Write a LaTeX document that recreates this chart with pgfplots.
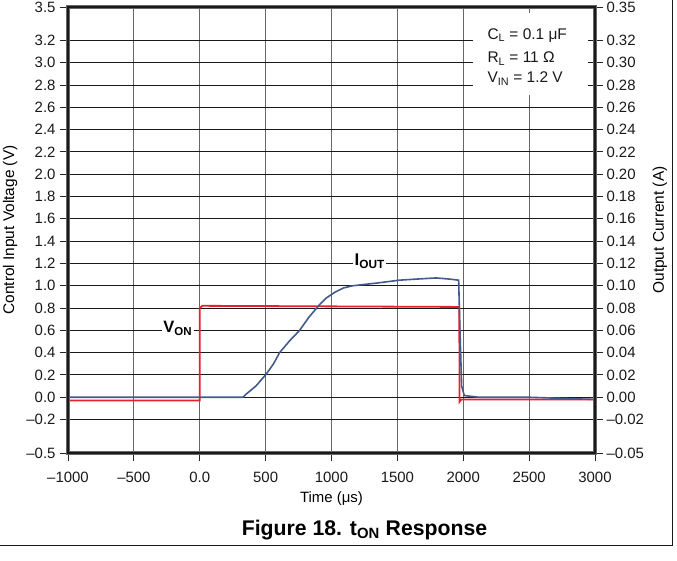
\documentclass[border=0pt]{standalone}
\usepackage{fontspec}
\setmainfont{Liberation Sans}
\usepackage{pgfplots}
\pgfplotsset{compat=1.18}
\definecolor{vonred}{RGB}{232,32,42}
\definecolor{ioutblue}{RGB}{66,90,140}
\newcommand{\tk}{\fontsize{15}{18}\selectfont}
\begin{document}
\begin{tikzpicture}
\useasboundingbox (0bp,0bp) rectangle (677bp,561bp);
\draw[black!90, line width=1bp] (0bp,15bp) -- (672bp,15bp) -- (672bp,561bp);

% left axis: control voltage
\begin{axis}[
  at={(68bp,108bp)}, anchor=south west, scale only axis,
  width=527bp, height=446bp,
  xmin=-1000, xmax=3000, ymin=-0.5, ymax=3.5,
  xtick={-1000,-500,0,500,1000,1500,2000,2500,3000},
  xticklabels={\textendash1000,\textendash500,0.0,500,1000,1500,2000,2500,3000},
  ytick={-0.5,-0.2,0,0.2,0.4,0.6,0.8,1.0,1.2,1.4,1.6,1.8,2.0,2.2,2.4,2.6,2.8,3.0,3.2,3.5},
  yticklabels={\textendash0.5,\textendash0.2,0.0,0.2,0.4,0.6,0.8,1.0,1.2,1.4,1.6,1.8,2.0,2.2,2.4,2.6,2.8,3.0,3.2,3.5},
  xtick pos=bottom, ytick pos=left,
  tick align=outside, major tick length=8bp,
  tick style={black!85, line width=0.9bp},
  xmajorgrids, ymajorgrids,
  x grid style={black!60, line width=1bp},
  y grid style={black!90, line width=0.9bp},
  ticklabel style={font=\tk, text=black!90},
  xticklabel style={yshift=-8bp},
  yticklabel style={xshift=-1bp},
  xlabel={Time (μs)},
  xlabel style={font=\tk, at={(axis description cs:0.5,0)}, anchor=base, yshift=-49bp},
  ylabel={Control Input Voltage (V)},
  ylabel style={font=\fontsize{15.5}{18}\selectfont, at={(axis description cs:-0.110,0.5)}, anchor=center},
]
\addplot[vonred, line width=1.8bp] coordinates {
  (-1000,-0.03) (0,-0.03) (0,0.80) (20,0.82) (1000,0.815) (1970,0.81)
  (1972,-0.04) (1985,-0.02) (3000,-0.02)
};
\node[fill=white, inner sep=1.5bp, anchor=base, font=\fontsize{16.5}{19}\selectfont\bfseries]
  at (axis cs:-167,0.58) {V\textsubscript{ON}};
\node[fill=white, inner sep=1.5bp, anchor=base, font=\fontsize{17}{20}\selectfont\bfseries]
  at (axis cs:1290,1.18) {I\textsubscript{OUT}};
\end{axis}

% right axis: output current
\begin{axis}[
  at={(68bp,108bp)}, anchor=south west, scale only axis,
  width=527bp, height=446bp,
  xmin=-1000, xmax=3000, ymin=-0.05, ymax=0.35,
  axis x line=none, axis y line*=right,
  ytick={-0.05,-0.02,0,0.02,0.04,0.06,0.08,0.10,0.12,0.14,0.16,0.18,0.20,0.22,0.24,0.26,0.28,0.30,0.32,0.35},
  yticklabels={\textendash0.05,\textendash0.02,0.00,0.02,0.04,0.06,0.08,0.10,0.12,0.14,0.16,0.18,0.20,0.22,0.24,0.26,0.28,0.30,0.32,0.35},
  tick align=outside, major tick length=8bp,
  tick style={black!85, line width=0.9bp},
  y axis line style={-},
  ticklabel style={font=\tk, text=black!90},
  ylabel={Output Current (A)},
  ylabel style={font=\fontsize{15.5}{18}\selectfont, at={(axis description cs:1.123,0.5)}, anchor=center},
]
\addplot[ioutblue, line width=1.6bp] coordinates {
  (-1000,0) (0,0) (328,0) (354,0.003) (390,0.0065) (429,0.0104) (505,0.0208)
  (560,0.030) (606,0.040) (682,0.0506) (758,0.060) (830,0.072) (909,0.083)
  (960,0.089) (1023,0.094) (1090,0.098) (1162,0.100) (1350,0.1025) (1515,0.105)
  (1650,0.106) (1793,0.107) (1894,0.106) (1965,0.105) (1975,0.060) (1988,0.010)
  (2008,0.0015) (2120,0) (2500,0) (3000,-0.002)
};
\end{axis}

% heavy plot frame
\draw[black!60, line width=4.4bp] (68bp,108bp) rectangle (595bp,554bp);
\draw[black!90, line width=2.6bp] (68bp,108bp) rectangle (595bp,554bp);

% test conditions box
\fill[white] (473bp,466bp) rectangle (588bp,548bp);
\begin{scope}[font=\fontsize{15.5}{18}\selectfont, text=black!90]
\node[anchor=base west] at (484bp,521.7bp) {C\textsubscript{L} = 0.1 μF};
\node[anchor=base west] at (484bp,498bp) {R\textsubscript{L} = 11 Ω};
\node[anchor=base west] at (484bp,478bp) {V\textsubscript{IN} = 1.2 V};
\end{scope}

\node[anchor=base, font=\fontsize{21.3}{25}\selectfont\bfseries] at (364.5bp,25.3bp)
  {Figure 18. t\textsubscript{ON} Response};
\end{tikzpicture}
\end{document}
